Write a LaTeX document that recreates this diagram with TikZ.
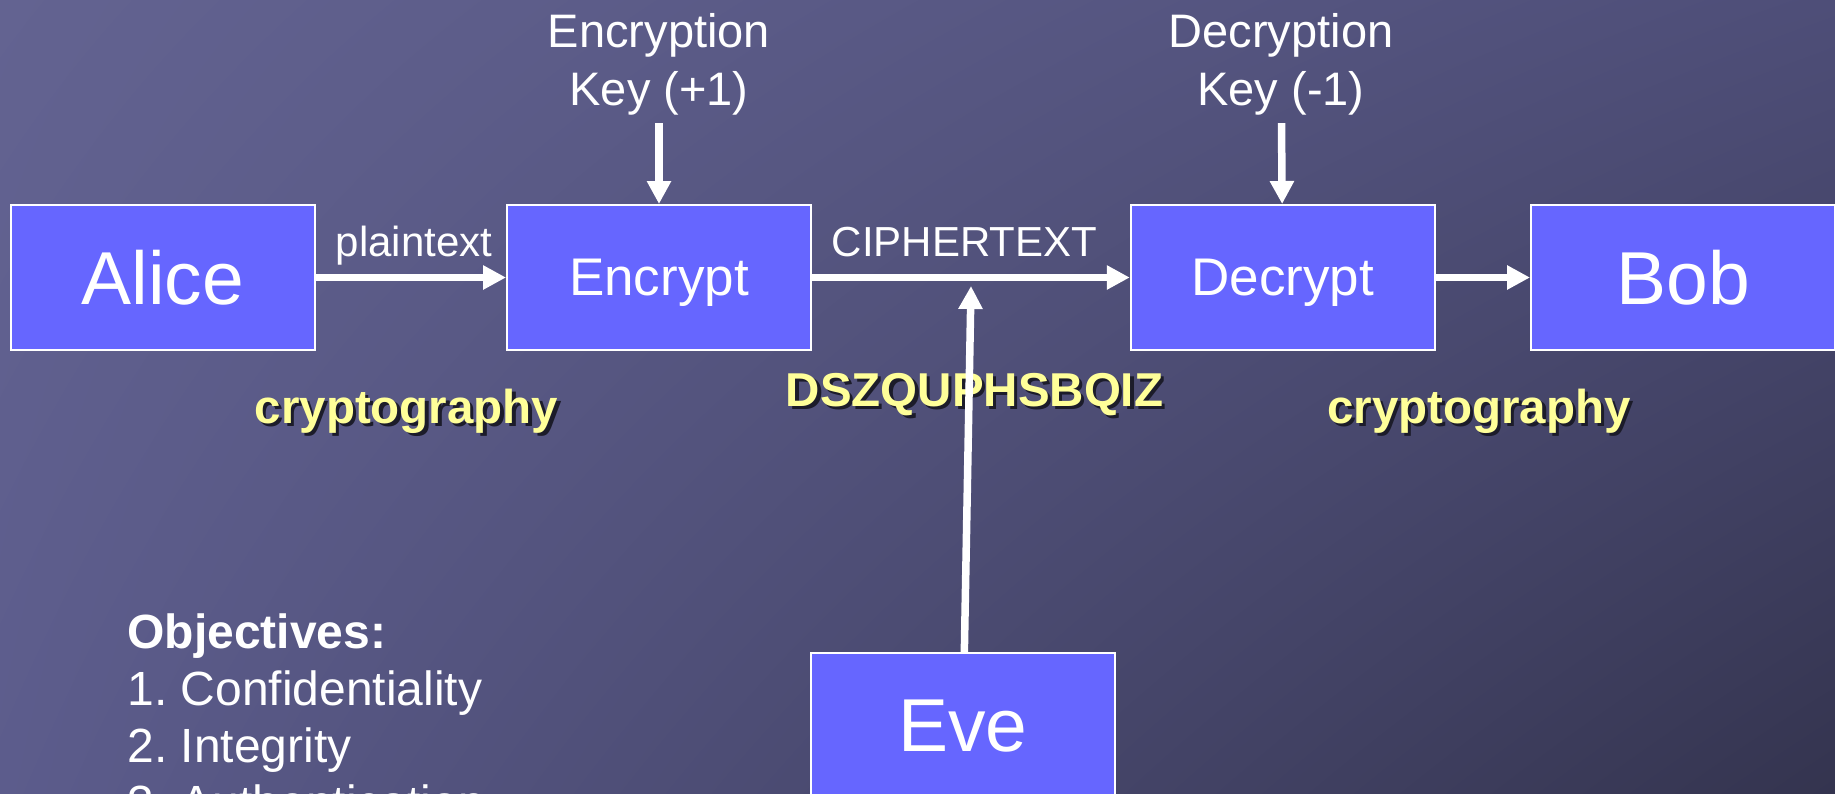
\documentclass[tikz,border=0pt]{standalone}
\usepackage{fontspec}
\setmainfont{Liberation Sans}
\usetikzlibrary{arrows.meta,shadings}
\frenchspacing

\definecolor{bgTL}{HTML}{636391}
\definecolor{bgTR}{HTML}{4E4E78}
\definecolor{bgBL}{HTML}{5C5C8C}
\definecolor{bgBR}{HTML}{34344F}
\definecolor{boxblue}{HTML}{6666FF}
\definecolor{hiyellow}{HTML}{FFFF99}
\definecolor{dropshade}{HTML}{1C1C2A}

% text with a dark drop shadow offset down and to the right
\newcommand\dropshadowed[1]{\makebox[0pt][l]{\kern1.6pt\raisebox{-1.6pt}{\textcolor{dropshade}{#1}}}#1}

\begin{document}
\begin{tikzpicture}[x=0.5pt,y=-0.5pt,
  party/.style={draw=white, line width=1pt, fill=boxblue, minimum width=152pt,
    minimum height=72.5pt, inner sep=0pt, text=white, text depth=0pt,
    font=\fontsize{37.5}{45}\selectfont},
  stage/.style={party, font=\fontsize{26.5}{32}\selectfont},
  flow/.style={draw=white, line width=3.75pt, -{Triangle[length=11.5pt,width=11.5pt]}},
  keylabel/.style={text=white, align=center, inner sep=0pt, anchor=base,
    font=\fontsize{23.5}{29}\selectfont},
  wirelabel/.style={text=white, inner sep=0pt, anchor=base,
    font=\fontsize{21}{25}\selectfont},
  sample/.style={text=hiyellow, inner sep=0pt, anchor=base,
    font=\bfseries\fontsize{23.75}{28}\selectfont},
  goals/.style={text=white, align=left, inner sep=0pt, anchor=base west,
    font=\fontsize{24}{28.5}\selectfont}]

\useasboundingbox (0,0) rectangle (1835,793);
\clip (0,0) rectangle (1835,793);
\shade[upper left=bgTL, upper right=bgTR, lower left=bgBL, lower right=bgBR]
  (0,0) rectangle (1835,793);

% parties and processing stages
\node[party] (alice) at (162.75,277.5) {Alice};
\node[stage] (enc) at (659,277.5) {Encrypt};
\node[stage] (dec) at (1282.75,277.5) {Decrypt};
\node[party] (bob) at (1683,277.5) {Bob};
\node[party] (eve) at (963,725.5) {Eve};

% keys (anchored on the baseline of their last line)
\node[keylabel] (enckey) at (659,105) {Encryption\\Key (+1)};
\node[keylabel] (deckey) at (1281,105) {Decryption\\Key (-1)};

% channel labels
\node[wirelabel] (plain) at (414,256.5) {plaintext};
\node[wirelabel] (cipher) at (964.5,256.5) {CIPHERTEXT};

% sample messages
\node[sample] (ptleft) at (406.5,423) {\dropshadowed{cryptography}};
\node[sample] (ct) at (974.5,406) {\dropshadowed{DSZQUPHSBQIZ}};
\node[sample] (ptright) at (1479,423) {\dropshadowed{cryptography}};

% goals (anchored on the baseline of the last line)
\node[goals] (goals) at (127,819)
  {\textbf{Objectives:}\\1. Confidentiality\\2. Integrity\\3. Authentication};

% message flow
\draw[flow] (alice) -- (enc);
\draw[flow] (enc) -- (dec);
\draw[flow] (dec) -- (bob);
\draw[flow, shorten <=4pt] (enckey) -- (enc);
\draw[flow, shorten <=4pt] (deckey) -- (dec);

% eavesdropper taps the channel
\coordinate (tap) at (971,286);
\draw[flow] (eve) -- (tap);
\end{tikzpicture}
\end{document}
